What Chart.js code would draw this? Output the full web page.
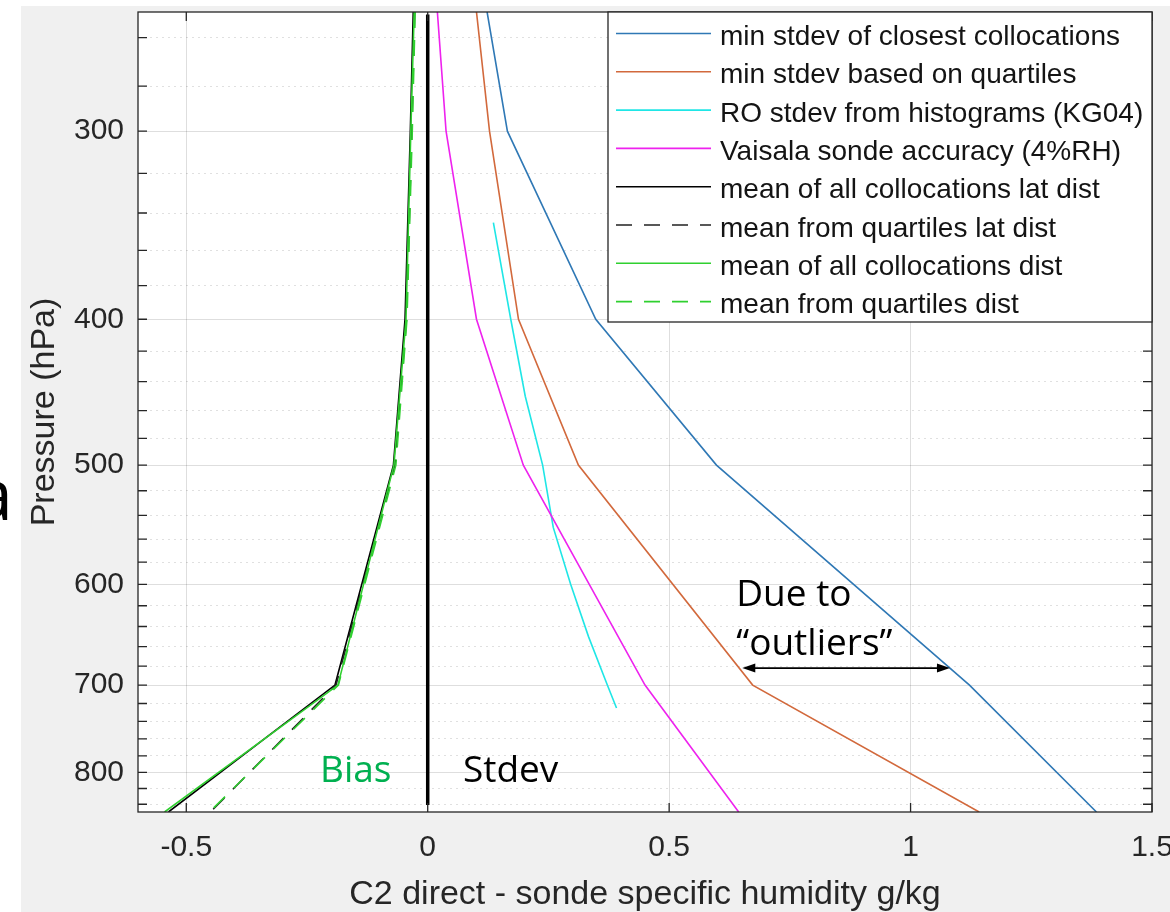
<!DOCTYPE html>
<html>
<head>
<meta charset="utf-8">
<title>C2 direct - sonde specific humidity</title>
<script src="https://cdn.jsdelivr.net/npm/chart.js@4.4.1/dist/chart.umd.min.js"></script>
<style>
    html, body { margin: 0; padding: 0; background: #fff; overflow: hidden; }
    body { width: 1170px; height: 912px; position: relative; }
    #figure { position: absolute; left: 21px; top: 6px; width: 1160px; height: 906px; background: #f0f0f0; }
    #stray { position: absolute; left: -27px; top: 456px; font-family: 'Open Sans', sans-serif; font-size: 72px; line-height: 72px; color: #000; }
</style>
</head>
<body>
<span id="stray">a</span>
<div id="figure"><canvas id="profileChart"></canvas></div>
<script>
// pressure levels (hPa) of the collocation statistics
const levels = [250, 300, 400, 500, 700, 850];

// stdev curves (g/kg)
const closestStdev  = [0.123, 0.165, 0.348, 0.598, 1.122, 1.385];
const quartileStdev = [0.101, 0.128, 0.188, 0.312, 0.673, 1.142];
const sondeAccuracy = [0.020, 0.038, 0.101, 0.198, 0.450, 0.644];

// RO stdev from histograms (KG04) has its own levels
const roLevels = [345, 400, 450, 500, 550, 600, 650, 700, 725];
const roStdev  = [0.136, 0.172, 0.202, 0.238, 0.260, 0.296, 0.333, 0.372, 0.391];

// bias curves (g/kg)
const latMean      = [-0.030, -0.036, -0.047, -0.071, -0.192, -0.537];
const latQuartile  = [-0.027, -0.033, -0.044, -0.068, -0.190, -0.450];
const distMean     = [-0.028, -0.035, -0.045, -0.070, -0.186, -0.545];
const distQuartile = [-0.026, -0.032, -0.043, -0.066, -0.185, -0.452];

// vertical separator between bias and stdev
const zeroLevels = [251, 841];
const zeroValues = [0, 0];

// axis ticks
const xTicks = [-0.5, 0, 0.5, 1, 1.5];
const yMajorTicks = [300, 400, 500, 600, 700, 800];
const yTicks = [260, 280, 300, 320, 340, 360, 380, 400, 420, 440, 460, 480, 500, 520, 540, 560, 580,
                600, 620, 640, 660, 680, 700, 720, 740, 760, 780, 800, 820, 840];

const AXIS_COLOR = '#262626';
const SANS = "'Liberation Sans', Arial, Helvetica, sans-serif";

function toPoints(values, pressures) {
    return values.map((v, i) => ({ x: v, y: pressures[i] }));
}

function profile(label, values, pressures, color, dash) {
    return {
        label: label,
        data: toPoints(values, pressures),
        borderColor: color,
        borderWidth: 1.6,
        borderDash: dash || [],
        pointRadius: 0,
        tension: 0,
        fill: false
    };
}

const datasets = [
    profile('min stdev of closest collocations', closestStdev, levels, '#2f78b5'),
    profile('min stdev based on quartiles', quartileStdev, levels, '#d2693c'),
    profile('RO stdev from histograms (KG04)', roStdev, roLevels, '#1fe6e6'),
    profile('Vaisala sonde accuracy (4%RH)', sondeAccuracy, levels, '#ee22ee'),
    profile('mean of all collocations lat dist', latMean, levels, '#000000'),
    profile('mean from quartiles lat dist', latQuartile, levels, '#222222', [16, 12]),
    profile('mean of all collocations dist', distMean, levels, '#2fd02f'),
    profile('mean from quartiles dist', distQuartile, levels, '#2fd02f', [16, 12])
];
// later curves sit on top, like the original plot
datasets.forEach((ds, i) => { ds.order = datasets.length - i; });
datasets.push({
    label: '',
    data: toPoints(zeroValues, zeroLevels),
    borderColor: '#000',
    borderWidth: 3.5,
    pointRadius: 0,
    order: 0
});

// white axes background under the grid
const plotBackground = {
    id: 'plotBackground',
    beforeDraw(chart) {
        const { ctx, chartArea: a } = chart;
        ctx.save();
        ctx.fillStyle = '#fff';
        ctx.fillRect(a.left, a.top, a.width, a.height);
        ctx.restore();
    }
};

// box, inward tick marks
const axesFrame = {
    id: 'axesFrame',
    afterDatasetsDraw(chart) {
        const { ctx, chartArea: a, scales } = chart;
        ctx.save();
        ctx.strokeStyle = AXIS_COLOR;
        ctx.lineWidth = 1.3;
        ctx.beginPath();
        scales.y.ticks.forEach(t => {
            const py = scales.y.getPixelForValue(t.value);
            ctx.moveTo(a.left, py); ctx.lineTo(a.left + 9, py);
            ctx.moveTo(a.right, py); ctx.lineTo(a.right - 9, py);
        });
        scales.x.ticks.forEach(t => {
            const px = scales.x.getPixelForValue(t.value);
            ctx.moveTo(px, a.bottom); ctx.lineTo(px, a.bottom - 9);
            ctx.moveTo(px, a.top); ctx.lineTo(px, a.top + 9);
        });
        ctx.stroke();
        ctx.strokeRect(a.left, a.top, a.width, a.height);
        ctx.restore();
    }
};

// boxed legend in the upper right corner
const legendBox = {
    id: 'legendBox',
    afterDatasetsDraw(chart) {
        const { ctx, chartArea: a } = chart;
        const left = 587, top = a.top, bottom = 316;
        ctx.save();
        ctx.fillStyle = '#fff';
        ctx.fillRect(left, top, a.right - left, bottom - top);
        ctx.strokeStyle = AXIS_COLOR;
        ctx.lineWidth = 1.3;
        ctx.strokeRect(left, top, a.right - left, bottom - top);
        ctx.font = '28px ' + SANS;
        ctx.textBaseline = 'alphabetic';
        ctx.textAlign = 'left';
        chart.data.datasets.filter(ds => ds.label).forEach((ds, i) => {
            const y = 27.5 + 38.3 * i;
            ctx.beginPath();
            ctx.setLineDash(ds.borderDash || []);
            ctx.strokeStyle = ds.borderColor;
            ctx.lineWidth = ds.borderWidth;
            ctx.moveTo(595, y);
            ctx.lineTo(690, y);
            ctx.stroke();
            ctx.setLineDash([]);
            ctx.fillStyle = '#141414';
            ctx.fillText(ds.label, 699, y + 11.5);
        });
        ctx.restore();
    }
};

// slide annotations
const notes = {
    id: 'notes',
    afterDatasetsDraw(chart) {
        const { ctx, scales: { x, y } } = chart;
        ctx.save();
        ctx.textAlign = 'left';
        ctx.textBaseline = 'alphabetic';
        ctx.font = "37px 'Open Sans', sans-serif";
        ctx.fillStyle = '#00b050';
        ctx.fillText('Bias', x.getPixelForValue(-0.223), y.getPixelForValue(812));
        ctx.fillStyle = '#000';
        ctx.fillText('Stdev', x.getPixelForValue(0.073), y.getPixelForValue(812));
        ctx.fillText('Due to', x.getPixelForValue(0.639), y.getPixelForValue(620));
        ctx.fillText('\u201Coutliers\u201D', x.getPixelForValue(0.639), y.getPixelForValue(668.5));

        // double-headed arrow between the two stdev curves
        const ay = y.getPixelForValue(682);
        const x1 = x.getPixelForValue(0.6515), x2 = x.getPixelForValue(1.0816);
        ctx.strokeStyle = '#000';
        ctx.lineWidth = 1.8;
        ctx.beginPath();
        ctx.moveTo(x1 + 8, ay); ctx.lineTo(x2 - 8, ay);
        ctx.stroke();
        ctx.beginPath();
        ctx.moveTo(x1, ay); ctx.lineTo(x1 + 13, ay - 4.5); ctx.lineTo(x1 + 13, ay + 4.5); ctx.closePath();
        ctx.moveTo(x2, ay); ctx.lineTo(x2 - 13, ay - 4.5); ctx.lineTo(x2 - 13, ay + 4.5); ctx.closePath();
        ctx.fillStyle = '#000';
        ctx.fill();
        ctx.restore();
    }
};

Chart.defaults.font.family = SANS;
Chart.defaults.color = AXIS_COLOR;

new Chart(document.getElementById('profileChart'), {
    type: 'line',
    data: { datasets: datasets },
    options: {
        responsive: true,
        maintainAspectRatio: false,
        animation: false,
        layout: { padding: { left: 0, top: 6, right: 29, bottom: 0 } },
        plugins: {
            legend: { display: false },
            tooltip: { enabled: false }
        },
        scales: {
            x: {
                type: 'linear',
                min: -0.6,
                max: 1.5,
                afterBuildTicks: scale => { scale.ticks = xTicks.map(v => ({ value: v })); },
                afterFit: scale => { scale.height = 100; scale.paddingLeft = 0; scale.paddingRight = 0; },
                ticks: {
                    autoSkip: false,
                    maxRotation: 0,
                    padding: 18,
                    color: AXIS_COLOR,
                    font: { size: 30 },
                    callback: v => String(v)
                },
                grid: { drawTicks: false, color: 'rgba(0,0,0,0.13)', lineWidth: 1 },
                border: { display: false },
                title: {
                    display: true,
                    text: 'C2 direct - sonde specific humidity g/kg',
                    color: AXIS_COLOR,
                    font: { size: 34, lineHeight: 1 },
                    padding: { top: 0, bottom: 0 }
                }
            },
            y: {
                type: 'logarithmic',
                reverse: true,
                min: 250,
                max: 850,
                afterBuildTicks: scale => { scale.ticks = yTicks.map(v => ({ value: v })); },
                afterFit: scale => { scale.width = 117; scale.paddingTop = 0; scale.paddingBottom = 0; },
                ticks: {
                    autoSkip: false,
                    padding: 14,
                    color: AXIS_COLOR,
                    font: { size: 30 },
                    callback: v => yMajorTicks.includes(v) ? String(v) : ''
                },
                grid: {
                    drawTicks: false,
                    lineWidth: 1,
                    color: ctx => (ctx.tick && yMajorTicks.includes(ctx.tick.value)) ? 'rgba(0,0,0,0.13)' : 'rgba(0,0,0,0.12)'
                },
                border: {
                    display: false,
                    dash: ctx => (ctx.tick && !yMajorTicks.includes(ctx.tick.value)) ? [2, 4] : []
                },
                title: {
                    display: true,
                    text: 'Pressure (hPa)',
                    color: AXIS_COLOR,
                    font: { size: 34, lineHeight: 1 },
                    padding: { top: 7, bottom: 0 }
                }
            }
        }
    },
    plugins: [plotBackground, axesFrame, legendBox, notes]
});
</script>
</body>
</html>
